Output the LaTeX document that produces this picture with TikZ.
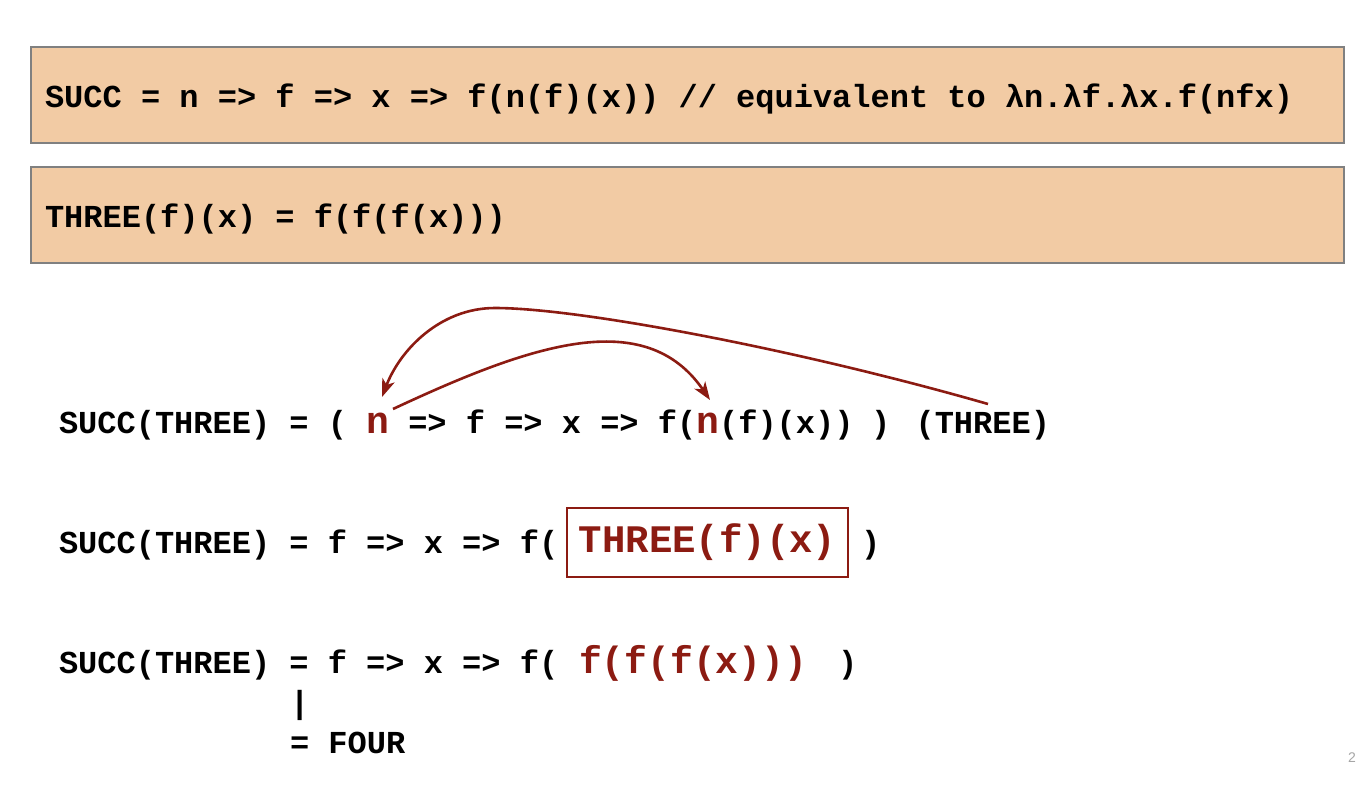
\documentclass[tikz,border=0pt]{standalone}
\usepackage{fontspec}
\newfontfamily\monob{Liberation Mono}[BoldFont={Liberation Mono Bold}]
\newfontfamily\sansf{Liberation Sans}
\usetikzlibrary{arrows.meta}
\definecolor{peach}{RGB}{242,203,164}
\definecolor{boxgray}{RGB}{128,128,128}
\definecolor{dred}{RGB}{140,27,18}
\frenchspacing
\begin{document}
\begin{tikzpicture}[x=1pt,y=-1pt,
  codebox/.style={draw=boxgray,line width=1.3pt,fill=peach},
  txt/.style={inner sep=0pt,outer sep=0pt,anchor=base west,text=black,font=\monob\bfseries\fontsize{32}{38}\selectfont},
  redtxt/.style={inner sep=0pt,outer sep=0pt,anchor=base west,text=dred,font=\monob\bfseries\fontsize{38}{44}\selectfont},
  arr/.style={draw=dred,line width=2.6pt,-{Stealth[length=18pt,width=13pt,inset=5pt]}}]
\useasboundingbox (0,0) rectangle (1356,798);
\fill[white] (0,0) rectangle (1356,798);
% top boxes
\draw[codebox] (31,47) rectangle (1344,143);
\draw[codebox] (31,167) rectangle (1344,263);
\node[txt] (succdef) at (45,107) {SUCC = n => f => x => f(n(f)(x)) // equivalent to λn.λf.λx.f(nfx)};
\node[txt] (threedef) at (45,227) {THREE(f)(x) = f(f(f(x)))};
% line 1
\node[txt] (l1a) at (59,433) {SUCC(THREE)~=~(~\mbox{}};
\node[redtxt] (n1) at (l1a.base east) {n};
\node[txt] (l1b) at (n1.base east) {~=>~f~=>~x~=>~f(};
\node[redtxt] (n2) at (l1b.base east) {n};
\node[txt] (l1c) at (n2.base east) {(f)(x))};
\node[txt] (l1d) at (871,433) {)};
\node[txt,anchor=base east] (l1e) at (1050,433) {(THREE)};
\coordinate (a1s) at (393,409);
\coordinate (a1e) at (710,400);
\coordinate (a2s) at (988,404);
\coordinate (a2p) at (495,308);
\coordinate (a2e) at (382,397);
\draw[arr] (a1s) .. controls (530,345) and (645,305) .. (a1e);
\draw[arr] (a2s) .. controls (800,350) and (580,308) .. (a2p) .. controls (440,308) and (400,350) .. (a2e);
% line 2
\node[txt] (l2a) at (59,553) {SUCC(THREE)~=~f~=>~x~=>~f(};
\node[draw=dred,line width=1.6pt,inner xsep=12pt,minimum height=69pt,anchor=west,text=dred,font=\monob\bfseries\fontsize{39}{45}\selectfont] (boxed) at (566,542.5) {THREE(f)(x)};
\node[txt] (l2b) at (861,553) {)};
% line 3
\node[txt] (l3a) at (59,673) {SUCC(THREE)~=~f~=>~x~=>~f(};
\node[redtxt] (l3r) at (579,673) {f(f(f(x)))};
\node[txt] (l3b) at (838,673) {)};
\node[txt] (bar) at (290,713) {|};
\node[txt] (four) at (290,753) {=~FOUR};
\node[inner sep=0pt,anchor=base east,text=black!35,font=\sansf\fontsize{14}{16}\selectfont] (pnum) at (1356,762) {2};
\end{tikzpicture}
\end{document}
